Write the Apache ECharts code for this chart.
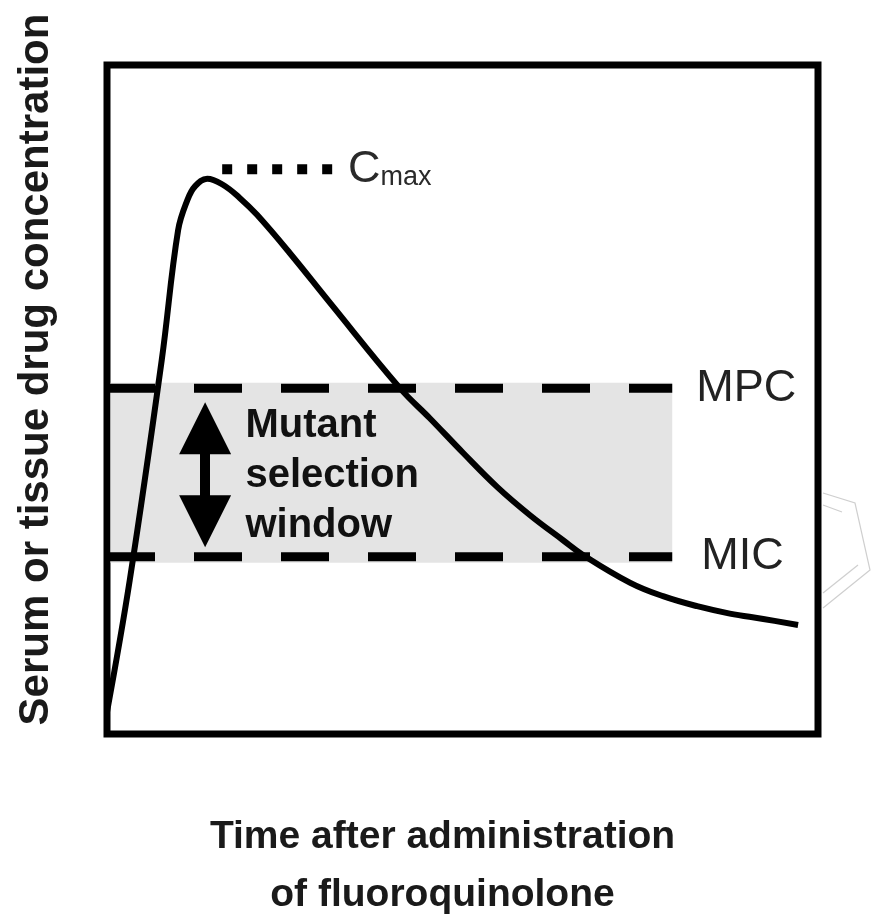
<!DOCTYPE html>
<html>
<head>
<meta charset="utf-8">
<script src="https://cdn.jsdelivr.net/npm/echarts@6/dist/echarts.min.js"></script>
<style>
  html, body { margin: 0; padding: 0; background: #fff; }
  #chart { width: 875px; height: 917px; }
</style>
</head>
<body>
<div id="chart"></div>
<script>
// concentration-time curve (arbitrary units, 0-100 on both axes)
const curveTime = [0, 3.2, 7.7, 10.0, 11.3, 12.4, 14.1, 16.3, 18.7, 21.1, 25.7, 31.4, 41.2, 45.4, 50.1, 54.9, 59.5, 64.1, 66.9, 73.6, 78.2, 83.0, 87.6, 92.3, 97.2];
const curveConc = [3.3, 23.0, 55.9, 75.3, 79.8, 81.9, 83.0, 82.1, 80.1, 77.6, 71.9, 64.4, 51.7, 47.2, 42.0, 36.9, 32.7, 29.0, 26.8, 22.6, 20.6, 19.1, 18.0, 17.2, 16.3];

const mpcLevel = 51.7;
const micLevel = 26.5;
const windowEnd = 79.5;
const windowBand = [25.6, 52.5];
const cmaxLevel = 84.4;
const cmaxSpan = [16.2, 31.8];
const arrowX = 13.8;
const arrowSpan = [45.7, 31.8];
const windowTextPos = [19.4, 38.6];

const chart = echarts.init(document.getElementById('chart'));

const hiddenAxis = {
    type: 'value',
    min: 0,
    max: 100,
    axisLine: { show: false },
    axisTick: { show: false },
    axisLabel: { show: false },
    splitLine: { show: false }
};

const option = {
    backgroundColor: '#fff',
    animation: false,
    grid: {
        left: 107, top: 65, right: 57, bottom: 183,
        outerBoundsMode: 'none',
        containLabel: false,
        show: true,
        borderColor: '#000',
        borderWidth: 7,
        backgroundColor: 'transparent'
    },
    xAxis: {
        ...hiddenAxis,
        name: 'Time after administration\nof fluoroquinolone',
        nameLocation: 'middle',
        nameGap: 74,
        nameTextStyle: {
            fontFamily: 'Liberation Sans',
            fontWeight: 'bold',
            fontSize: 39,
            lineHeight: 58,
            color: '#1a1a1a',
            padding: [0, 40, 0, 0]
        }
    },
    yAxis: {
        ...hiddenAxis,
        name: 'Serum or tissue drug concentration',
        nameLocation: 'middle',
        nameGap: 50,
        nameTextStyle: {
            fontFamily: 'Liberation Sans',
            fontWeight: 'bold',
            fontSize: 42,
            color: '#1a1a1a',
            padding: [0, 0, 0, 60]
        }
    },
    series: [
        {
            name: 'window',
            type: 'line',
            data: [],
            silent: true,
            markArea: {
                silent: true,
                itemStyle: { color: '#e4e4e4' },
                data: [[{ coord: [0.5, windowBand[0]] }, { coord: [windowEnd, windowBand[1]] }]]
            },
            markLine: {
                silent: true,
                symbol: ['triangle', 'triangle'],
                symbolSize: [52, 52],
                label: { show: false },
                lineStyle: { color: '#000', width: 10, type: 'solid', opacity: 1 },
                data: [[{ coord: [arrowX, arrowSpan[0]] }, { coord: [arrowX, arrowSpan[1]] }]]
            },
            markPoint: {
                silent: true,
                symbol: 'circle',
                symbolSize: 1,
                itemStyle: { color: 'rgba(0,0,0,0)' },
                label: {
                    show: true,
                    position: 'right',
                    distance: 0,
                    formatter: 'Mutant\nselection\nwindow',
                    fontFamily: 'Liberation Sans',
                    fontWeight: 'bold',
                    fontSize: 40,
                    lineHeight: 50,
                    color: '#111'
                },
                data: [{ coord: windowTextPos }]
            }
        },
        {
            name: 'MPC',
            type: 'line',
            data: [[0, mpcLevel], [windowEnd, mpcLevel]],
            symbol: 'none',
            lineStyle: { color: '#000', width: 9, type: [48, 39], cap: 'butt' },
            endLabel: {
                show: true,
                formatter: 'MPC',
                distance: 24,
                fontFamily: 'Liberation Sans',
                fontSize: 45,
                color: '#222'
            }
        },
        {
            name: 'MIC',
            type: 'line',
            data: [[0, micLevel], [windowEnd, micLevel]],
            symbol: 'none',
            lineStyle: { color: '#000', width: 9, type: [48, 39], cap: 'butt' },
            endLabel: {
                show: true,
                formatter: 'MIC',
                distance: 29,
                fontFamily: 'Liberation Sans',
                fontSize: 45,
                color: '#222'
            }
        },
        {
            name: 'concentration',
            type: 'line',
            data: curveTime.map((t, i) => [t, curveConc[i]]),
            smooth: 0.4,
            symbol: 'none',
            z: 4,
            lineStyle: { color: '#000', width: 6 }
        },
        {
            name: 'Cmax',
            type: 'line',
            data: [[cmaxSpan[0], cmaxLevel], [cmaxSpan[1], cmaxLevel]],
            symbol: 'none',
            lineStyle: { color: '#000', width: 10, type: [10, 15], cap: 'butt' },
            endLabel: {
                show: true,
                distance: 15,
                formatter: '{c|C}{s|max}',
                rich: {
                    c: { fontFamily: 'Liberation Sans', fontSize: 45, lineHeight: 44, color: '#2a2a2a' },
                    s: { fontFamily: 'Liberation Sans', fontSize: 27, lineHeight: 24, color: '#2a2a2a', verticalAlign: 'bottom' }
                }
            }
        }
    ],
    graphic: [
        {
            // faint leftover outline at the right margin of the source image
            type: 'polyline',
            silent: true,
            shape: { points: [[823, 493], [855, 503], [870, 570], [823, 608]] },
            style: { stroke: '#cfcfcf', lineWidth: 1.2, fill: null }
        },
        {
            type: 'polyline',
            silent: true,
            shape: { points: [[823, 505], [842, 512]] },
            style: { stroke: '#cfcfcf', lineWidth: 1.2, fill: null }
        },
        {
            type: 'polyline',
            silent: true,
            shape: { points: [[858, 565], [823, 593]] },
            style: { stroke: '#cfcfcf', lineWidth: 1.2, fill: null }
        }
    ]
};

chart.setOption(option);
</script>
</body>
</html>
